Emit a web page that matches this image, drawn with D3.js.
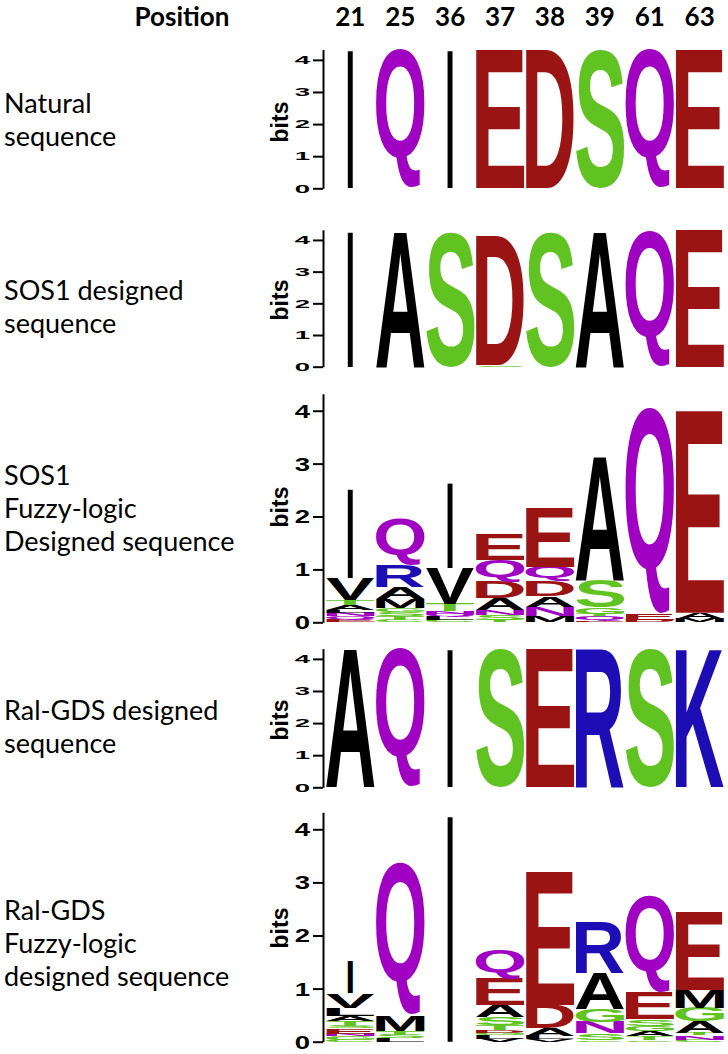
<!DOCTYPE html>
<html><head><meta charset="utf-8">
<script src="https://cdn.jsdelivr.net/npm/d3@7"></script>
<style>body{margin:0;background:#fff} svg{display:block}</style>
</head><body><svg id="chart" width="728" height="1054"></svg>
<script>
// ---------------- data ----------------
const positions = ["21","25","36","37","38","39","61","63"];
const yTicks = [0,1,2,3,4];
const maxBits = 4.32;
const panelTitles = [
  ["Natural","sequence"],
  ["SOS1 designed","sequence"],
  ["SOS1","Fuzzy-logic","Designed sequence"],
  ["Ral-GDS designed","sequence"],
  ["Ral-GDS","Fuzzy-logic","designed sequence"]
];
// each column: letters stacked bottom -> top, [letter, bits]
const natural = [
  [["I",4.32]],[["Q",4.32]],[["I",4.32]],[["E",4.32]],
  [["D",4.32]],[["S",4.32]],[["Q",4.32]],[["E",4.32]]
];
const sos1Designed = [
  [["I",4.32]],[["A",4.32]],[["S",4.22]],[["S",0.04],["D",4.10]],
  [["S",4.22]],[["A",4.32]],[["Q",4.29]],[["E",4.32]]
];
const sos1Fuzzy = [
  [["E",0.05],["Q",0.06],["N",0.07],["L",0.05],["A",0.09],["T",0.10],["V",0.41],["I",1.70]],
  [["C",0.05],["T",0.07],["S",0.08],["G",0.07],["M",0.17],["A",0.22],["R",0.42],["Q",0.89]],
  [["C",0.04],["L",0.06],["Q",0.06],["N",0.05],["T",0.14],["V",0.68],["I",1.63]],
  [["T",0.04],["S",0.09],["N",0.10],["A",0.23],["D",0.31],["Q",0.41],["E",0.49]],
  [["M",0.12],["N",0.17],["A",0.20],["D",0.28],["Q",0.27],["E",1.11]],
  [["E",0.03],["Q",0.08],["T",0.05],["G",0.12],["S",0.52],["A",2.36]],
  [["D",0.05],["E",0.11],["Q",3.89]],
  [["M",0.06],["A",0.12],["E",3.82]]
];
const ralDesigned = [
  [["A",4.32]],[["Q",4.32]],[["I",4.32]],[["S",4.32]],
  [["E",4.32]],[["R",4.32]],[["S",4.32]],[["K",4.32]]
];
const ralFuzzy = [
  [["C",0.04],["G",0.06],["N",0.05],["E",0.10],["S",0.05],["T",0.09],["A",0.10],["L",0.15],["V",0.27],["I",0.60]],
  [["L",0.06],["S",0.07],["T",0.07],["M",0.30],["Q",2.86]],
  [["I",4.30]],
  [["V",0.06],["L",0.06],["G",0.05],["D",0.05],["T",0.10],["S",0.14],["A",0.24],["E",0.50],["Q",0.54]],
  [["V",0.05],["L",0.06],["A",0.14],["D",0.45],["E",2.52]],
  [["C",0.03],["S",0.13],["N",0.21],["G",0.24],["A",0.68],["R",0.97]],
  [["C",0.03],["T",0.08],["A",0.09],["G",0.10],["S",0.12],["E",0.50],["Q",1.82]],
  [["C",0.04],["N",0.08],["T",0.04],["A",0.22],["G",0.26],["M",0.33],["E",1.46]]
];
const panelData = [natural, sos1Designed, sos1Fuzzy, ralDesigned, ralFuzzy];

// ---------------- styles / layout ----------------
const GREEN="#61c322", RED="#9b1414", PURPLE="#a000c2", BLUE="#1c0db4", BLACK="#000000";
const letterColor = {A:BLACK,V:BLACK,L:BLACK,I:BLACK,P:BLACK,W:BLACK,F:BLACK,M:BLACK,
  G:GREEN,S:GREEN,T:GREEN,Y:GREEN,C:GREEN,N:PURPLE,Q:PURPLE,K:BLUE,R:BLUE,H:BLUE,D:RED,E:RED};
const layout = [
  {y0:188.3, yTop:49.6,  tickSy:0.55, labelBase:113, bitsY:122},
  {y0:366.7, yTop:229.8, tickSy:0.55, labelBase:300, bitsY:300},
  {y0:622.3, yTop:393.8, tickSy:1.0,  labelBase:485, bitsY:507},
  {y0:787.3, yTop:648.6, tickSy:0.55, labelBase:720, bitsY:720},
  {y0:1041.7,yTop:812.3, tickSy:1.0,  labelBase:920, bitsY:928}
];
const LOGO_FONT = '"Liberation Sans", Arial, Helvetica, sans-serif';
const TEXT_FONT = 'Lato, "Open Sans", sans-serif';
const axisX = 323;

const svg = d3.select("#chart");
const x = d3.scaleBand().domain(positions).range([326, 724]).paddingInner(0.025).paddingOuter(0);

// glyph ink metrics
const ctx = document.createElement("canvas").getContext("2d");
ctx.font = `bold 100px ${LOGO_FONT}`;
const inkCache = {};
function ink(ch){
  if(!inkCache[ch]){
    const m = ctx.measureText(ch);
    inkCache[ch] = {l:m.actualBoundingBoxLeft, r:m.actualBoundingBoxRight,
                    a:m.actualBoundingBoxAscent, d:m.actualBoundingBoxDescent};
  }
  return inkCache[ch];
}

// header
svg.append("text").attr("x",182).attr("y",26).attr("text-anchor","middle")
  .style("font-family",TEXT_FONT).style("font-weight","700").style("font-size","26px")
  .text("Position");
svg.append("g").selectAll("text").data(positions).join("text")
  .attr("x",d=>x(d)+x.bandwidth()/2).attr("y",26).attr("text-anchor","middle")
  .style("font-family",TEXT_FONT).style("font-weight","700").style("font-size","26px")
  .text(d=>d);

panelData.forEach((cols,pi)=>{
  const L = layout[pi];
  const y = d3.scaleLinear().domain([0,maxBits]).range([L.y0,L.yTop]);
  const g = svg.append("g");

  // row title
  const t = g.append("text").style("font-family",TEXT_FONT).style("font-size","27px").attr("fill","#000");
  panelTitles[pi].forEach((line,li)=>{
    t.append("tspan").attr("x",4).attr("y",L.labelBase+li*33).text(line);
  });

  // axis
  const ax = g.append("g").attr("transform",`translate(${axisX},0)`)
    .call(d3.axisLeft(y).tickValues(yTicks).tickSize(10).tickSizeOuter(0).tickFormat(d3.format("d")));
  ax.select(".domain").attr("stroke","#000").attr("stroke-width",2);
  ax.selectAll(".tick line").attr("stroke","#000").attr("stroke-width",2);
  ax.selectAll(".tick text")
    .attr("x",0).attr("dy",null).attr("dominant-baseline","central")
    .attr("transform",`translate(-13,0) scale(1.45,${L.tickSy})`)
    .style("font-family",LOGO_FONT).style("font-weight","700").style("font-size","19px").attr("fill","#000");

  // bits label
  g.append("text").attr("transform",`translate(288,${L.bitsY}) rotate(-90)`)
    .attr("text-anchor","middle")
    .style("font-family",LOGO_FONT).style("font-weight","700").style("font-size","23px")
    .text("bits");

  // letters
  cols.forEach((stack,ci)=>{
    const pos = positions[ci];
    let cum = 0;
    stack.forEach(([ch,bits])=>{
      const bottom = cum, top = cum+bits; cum = top;
      const yb = y(bottom), yt = y(top);
      const h = yb-yt;
      if(h<=0.05) return;
      let w = x.bandwidth(), x0 = x(pos);
      if(ch==="I"){ const iw = 5.5; x0 = x0 + (w-iw)/2; w = iw; }
      const m = ink(ch);
      const sx = w/(m.l+m.r), sy = h/(m.a+m.d);
      g.append("text")
        .attr("transform",`translate(${x0},${yt}) scale(${sx},${sy}) translate(${m.l},${m.a})`)
        .style("font-family",LOGO_FONT).style("font-weight","700").style("font-size","100px")
        .attr("fill",letterColor[ch]||"#000")
        .text(ch);
    });
  });
});
</script>
</body></html>
